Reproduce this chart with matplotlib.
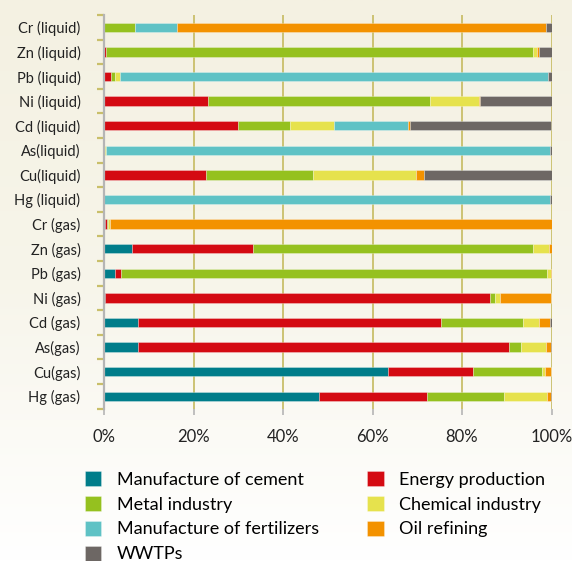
import numpy as np
import matplotlib
matplotlib.use('Agg')
import matplotlib.pyplot as plt
from matplotlib.colors import LinearSegmentedColormap

plt.rcParams['font.family'] = ['Lato', 'DejaVu Sans']

labels = ['Cr (liquid)', 'Zn (liquid)', 'Pb (liquid)', 'Ni (liquid)', 'Cd (liquid)',
          'As(liquid)', 'Cu(liquid)', 'Hg (liquid)', 'Cr (gas)', 'Zn (gas)', 'Pb (gas)',
          'Ni (gas)', 'Cd (gas)', 'As(gas)', 'Cu(gas)', 'Hg (gas)']

# share of each sector, % (stack order left -> right)
cement      = [0, 0, 0, 0, 0, 0, 0, 0, 0.2, 6.3, 2.5, 0.15, 7.7, 7.7, 63.5, 48.0]
energy      = [0, 0.4, 1.5, 23.3, 29.9, 0, 22.8, 0, 0.5, 27.1, 1.3, 86.2, 67.6, 82.9, 19.0, 24.2]
metal       = [6.9, 95.4, 0.9, 49.6, 11.7, 0.2, 24.0, 0, 0.3, 62.4, 95.1, 1.0, 18.4, 2.5, 15.4, 17.1]
chemical    = [0, 1.0, 1.1, 10.8, 9.8, 0.3, 22.9, 0, 0.4, 3.6, 0.9, 1.1, 3.5, 5.6, 0.7, 9.8]
fertilizers = [9.5, 0, 95.8, 0, 16.6, 99.1, 0, 99.7, 0, 0, 0, 0, 0, 0, 0, 0]
oil         = [82.3, 0.4, 0, 0.4, 0.4, 0, 1.8, 0, 98.6, 0.7, 0.2, 11.4, 2.5, 1.1, 1.3, 0.7]
wwtps       = [1.3, 2.8, 0.7, 16.0, 31.5, 0.4, 28.5, 0.3, 0, 0, 0, 0, 0.3, 0.4, 0, 0.3]

series = [
    ('Manufacture of cement', cement, '#007d8a'),
    ('Energy production', energy, '#d40a12'),
    ('Metal industry', metal, '#95c11f'),
    ('Chemical industry', chemical, '#e6e24d'),
    ('Manufacture of fertilizers', fertilizers, '#5fc2c5'),
    ('Oil refining', oil, '#f39200'),
    ('WWTPs', wwtps, '#6d6764'),
]
legend_order = ['Manufacture of cement', 'Metal industry', 'Manufacture of fertilizers',
                'WWTPs', 'Energy production', 'Chemical industry', 'Oil refining']

fig = plt.figure(figsize=(5.72, 5.61), dpi=100)
fig.patch.set_facecolor('white')

# soft cream background fading to white
bg = fig.add_axes([0, 0, 1, 1], zorder=-10)
cmap = LinearSegmentedColormap.from_list('bg', ['#f4f1e2', '#f7f5ea', '#ffffff'])
grad = np.linspace(0, 1, 256).reshape(-1, 1)
bg.imshow(grad, aspect='auto', cmap=cmap, extent=[0, 1, 0, 1], origin='upper')
bg.axis('off')

ax = fig.add_axes([104/572, 1 - 408.5/561, (551.5 - 104)/572, (408.5 - 15)/561])
ax.patch.set_alpha(0)

y = np.arange(len(labels))
left = np.zeros(len(labels))
handles = {}
for name, vals, col in series:
    vals = np.array(vals, dtype=float)
    b = ax.barh(y, vals, left=left, height=0.38, color=col,
                edgecolor=(1, 1, 1, 0.5), linewidth=0.4, zorder=3)
    handles[name] = b
    left += vals

ax.set_xlim(0, 100)
ax.set_ylim(len(labels) - 0.5, -0.5)
ax.set_xticks([0, 20, 40, 60, 80, 100])
ax.set_xticklabels(['0%', '20%', '40%', '60%', '80%', '100%'], fontsize=12, color='#222222')
ax.tick_params(axis='x', length=4, width=1.2, color='#b5b5b5', pad=11)
ax.set_yticks(y)
ax.set_yticklabels(labels, fontsize=10.5, color='#222222')
ax.tick_params(axis='y', which='major', length=0, pad=17)
ax.set_yticks(np.arange(-0.5, len(labels), 1), minor=True)
ax.tick_params(axis='y', which='minor', length=5, width=1.6, color='#c9bf6a')

for v in [20, 40, 60, 80, 100]:
    ax.axvline(v, color='#c9bf6a', lw=1.3, zorder=1)

for s in ['top', 'right', 'bottom']:
    ax.spines[s].set_visible(False)
ax.spines['left'].set_color('#b5b5b5')
ax.spines['left'].set_linewidth(1.6)
ax.spines['left'].set_zorder(4)

fig.legend([handles[n] for n in legend_order], legend_order, ncol=2,
           loc='upper left', bbox_to_anchor=(85/572, 1 - 471/561), frameon=False,
           fontsize=13, handlelength=0.9, handleheight=0.9, handletextpad=0.85,
           labelspacing=0.45, columnspacing=2.7, borderaxespad=0, borderpad=0)

fig.savefig('out.png', dpi=100)
